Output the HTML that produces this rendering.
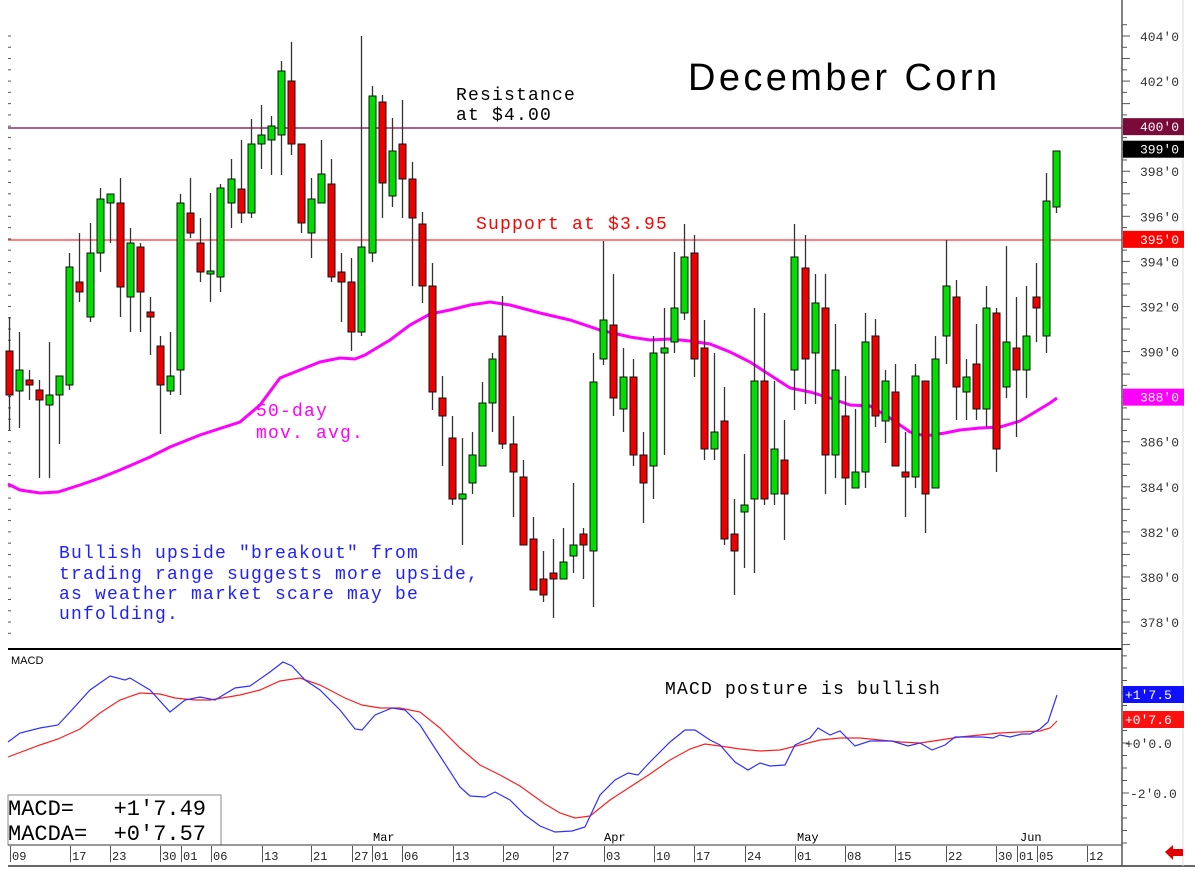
<!DOCTYPE html>
<html><head><meta charset="utf-8"><style>
html,body{margin:0;padding:0;background:#fff;}
svg{display:block;}
text{font-family:"Liberation Mono",monospace;}
</style></head><body>
<svg id="s" width="1195" height="877" xmlns="http://www.w3.org/2000/svg">
<rect width="1195" height="877" fill="#fff"/>
<g id="ticks"></g>
<line x1="8" y1="128" x2="1122" y2="128" stroke="#800040" stroke-width="1.3"/>
<line x1="8" y1="240" x2="1122" y2="240" stroke="#ff0000" stroke-width="1"/>
<polyline fill="none" stroke="#ff00ff" stroke-width="3" points="8,484 20,490 40,493 58,492 80,485 100,478 120,470 150,457 170,447 200,435 240,422 260,405 280,378 300,370 320,362 340,358 355,359 365,355 375,349 390,340 410,325 430,314 450,310 470,305 490,302 510,305 540,313 570,320 600,330 630,337 650,340 670,339 690,341 710,344 730,352 750,362 770,375 790,388 810,392 830,398 850,405 870,406 890,418 910,432 925,436 945,433 960,430 980,428 1000,427 1020,421 1035,412 1050,403 1057,398"/>
<g id="candles"></g>
<text x="688" y="90" style="font-family:'Liberation Sans',sans-serif" font-size="38" letter-spacing="3.4">December Corn</text>
<text x="456" y="100" font-size="18" letter-spacing="1.2">Resistance</text>
<text x="456" y="120" font-size="18" letter-spacing="1.2">at $4.00</text>
<text x="476" y="229" font-size="18" letter-spacing="1.2" fill="#ff0000">Support at $3.95</text>
<text x="256" y="416" font-size="18" letter-spacing="1.2" fill="#ff00ff">50-day</text>
<text x="256" y="438" font-size="18" letter-spacing="1.2" fill="#ff00ff">mov. avg.</text>
<g fill="#2020ff" font-size="18" letter-spacing="1.2">
<text x="59" y="558">Bullish upside "breakout" from</text>
<text x="59" y="579">trading range suggests more upside,</text>
<text x="59" y="599">as weather market scare may be</text>
<text x="59" y="619">unfolding.</text>
</g>
<line x1="8" y1="649" x2="1122" y2="649" stroke="#000" stroke-width="2"/>
<text x="11" y="664" font-size="11" style="font-family:'Liberation Sans',sans-serif">MACD</text>
<text x="665" y="694" font-size="18" letter-spacing="1.2">MACD posture is bullish</text>
<polyline fill="none" stroke="#ff2020" stroke-width="1.2" points="8,757 40,745 58,739 80,729 100,713 120,700 140,693 160,694 175,698 195,700 210,700 240,695 260,690 280,681 300,678 320,685 345,698 362,705 380,708 400,708 420,712 440,728 460,748 480,765 500,775 520,786 545,804 560,813 575,818 590,816 610,800 630,787 650,774 670,760 690,749 705,744 720,746 740,749 760,751 780,750 800,745 820,740 840,738 860,738 880,740 900,742 920,743 940,740 960,737 980,735 1000,733 1020,732 1040,731 1050,728 1057,721"/>
<polyline fill="none" stroke="#3030ff" stroke-width="1.2" points="8,742 20,733 40,728 58,725 70,712 90,690 110,676 125,680 130,678 150,690 170,712 185,700 200,697 215,700 235,688 250,686 270,672 283,662 292,666 305,680 320,690 340,710 355,729 362,730 375,715 392,708 405,710 420,725 440,756 460,787 470,796 485,797 495,792 510,800 525,815 540,826 555,832 572,831 585,827 600,795 615,780 628,773 638,775 650,762 670,742 685,730 695,730 710,740 720,745 735,762 748,770 760,763 770,766 785,765 795,745 810,738 818,728 830,735 840,731 855,746 870,741 880,741 892,741 908,746 920,743 932,750 945,745 955,737 970,737 982,737 993,738 1000,735 1010,737 1022,734 1030,734 1040,729 1048,722 1057,695"/>
<rect x="8" y="795" width="213" height="50" fill="#fff" stroke="#888"/>
<text x="8" y="815" font-size="22" textLength="198" lengthAdjust="spacingAndGlyphs" xml:space="preserve">MACD=   +1'7.49</text>
<text x="8" y="840" font-size="22" textLength="198" lengthAdjust="spacingAndGlyphs" xml:space="preserve">MACDA=  +0'7.57</text>
<line x1="8" y1="845" x2="1122" y2="845" stroke="#333" stroke-width="1"/>
<line x1="8" y1="866" x2="1195" y2="866" stroke="#333" stroke-width="1.5"/>
<line x1="1122" y1="0" x2="1122" y2="866" stroke="#555" stroke-width="1.5"/>
<line x1="1183" y1="0" x2="1183" y2="866" stroke="#ddd" stroke-width="1"/>
<g id="dates" font-size="12" style="font-family:'Liberation Sans',sans-serif"></g>
<g font-size="12" style="font-family:'Liberation Sans',sans-serif">
<text x="373" y="841">Mar</text><text x="604" y="841">Apr</text><text x="797" y="841">May</text><text x="1020" y="841">Jun</text>
</g>
<g id="axis" font-size="13" style="font-family:'Liberation Sans',sans-serif"></g>
<polygon points="1165,852 1173,845 1173,849 1183,849 1183,856 1173,856 1173,860" fill="#e00000"/>
</svg>
<script>
var NS="http://www.w3.org/2000/svg";
function el(p,t,a,txt){var e=document.createElementNS(NS,t);for(var k in a)e.setAttribute(k,a[k]);if(txt!==undefined)e.textContent=txt;p.appendChild(e);return e;}
var C=[
['r',317,351,395,430],['g',332,370,391,428],['r',370,380,385,400],['r',380,390,400,478],['g',342,395,405,478],
['g',376,376,395,444],['g',253,267,385,390],['r',233,282,292,302],['g',223,253,317,322],['g',188,199,253,272],
['g',194,194,203,243],['r',178,203,287,317],['g',228,243,297,332],['r',243,247,292,332],['r',297,312,317,355],
['r',336,346,385,434],['g',332,376,391,395],['g',194,203,370,395],['r',178,213,233,238],['r',218,243,272,282],
['g',193,271,273,302],['g',184,188,277,292],['g',159,179,203,228],['r',140,189,213,223],['g',119,144,213,218],
['g',105,135,144,169],['g',116,126,140,175],['g',61,71,135,175],['r',42,81,144,155],['r',144,144,223,233],
['g',178,199,233,258],['g',140,174,203,203],['r',159,184,277,282],['r',253,272,282,322],['r',258,282,332,351],
['g',36,247,332,336],['g',86,96,253,262],['r',95,102,183,218],['g',118,151,196,207],['r',100,144,179,218],
['r',162,179,218,286],['r',212,224,286,303],['r',263,286,392,410],['r',376,398,416,466],['r',416,438,499,505],
['g',438,494,499,545],['g',432,455,483,494],['g',382,403,466,466],['g',353,359,403,432],['r',296,336,444,449],
['r',416,444,472,517],['r',460,477,545,545],['r',517,539,590,590],['r',551,579,595,602],['r',539,573,579,618],
['g',528,562,579,579],['g',483,545,556,573],['r',528,534,545,579],['g',353,382,551,607],['g',241,320,359,365],
['r',274,325,398,416],['g',348,377,409,432],['r',359,377,455,466],['r',432,455,483,523],['g',336,353,466,499],
['g',308,348,353,455],['g',252,308,342,353],['g',224,257,313,320],['r',235,253,359,377],['r',320,348,449,460],
['g',353,432,449,460],['r',387,421,539,545],['r',499,534,551,595],['g',454,505,512,568],['g',308,381,499,573],
['r',313,381,499,505],['g',381,449,494,505],['r',420,460,494,540],['g',224,257,370,410],['r',235,268,359,404],
['g',274,303,353,404],['r',274,308,455,494],['g',324,370,455,478],['r',376,416,478,505],['g',409,472,488,488],
['g',313,342,472,488],['r',319,336,416,427],['g',370,381,421,443],['r',364,392,466,466],['r',432,472,477,517],
['g',364,376,477,488],['r',381,381,494,533],['g',336,359,488,488],['g',240,286,336,364],['r',280,297,387,420],
['g',359,377,392,420],['r',324,364,409,420],['g',286,308,409,427],['r',308,313,449,472],['g',246,342,387,398],
['r',297,348,370,437],['g',286,336,370,398],['r',263,297,308,342],['g',173,201,336,353],['g',151,151,207,213]
];
var g=document.getElementById('candles');
C.forEach(function(c,i){
 var x=Math.round(9+i*10.07)+0.5;
 el(g,'line',{x1:x,y1:c[1],x2:x,y2:c[4],stroke:'#333','stroke-width':1.3});
 var h=Math.max(c[3]-c[2],3);
 el(g,'rect',{x:x-3.5,y:c[2],width:7,height:h,fill:c[0]=='g'?'#00dd00':'#ee0000',stroke:'#111','stroke-width':1});
});
var tk=document.getElementById('ticks');
for(var y=36;y<640;y+=11.27){el(tk,'line',{x1:8,y1:y,x2:11,y2:y,stroke:'#555','stroke-width':1});}
var ax=document.getElementById('axis');
function py(p){return 36+(404-p)*22.54;}
for(var p=404.5;p>=376.5;p-=0.5){var y=py(p);var big=(p%1==0);el(ax,'line',{x1:1122,y1:y,x2:big?1130:1127,y2:y,stroke:'#555'});}
[404,402,398,396,394,392,390,386,384,382,380,378].forEach(function(p){el(ax,'text',{x:1140,y:py(p)+5,fill:'#333'},p+"'0");});
function box(p,bg,fg){var y=py(p);el(ax,'rect',{x:1123,y:y-8,width:61,height:17,fill:bg});el(ax,'text',{x:1140,y:y+5,fill:fg},p+"'0");}
box(400,'#7a0a3a','#fff');box(399,'#000','#fff');box(395,'#ff0000','#fff');box(388,'#ff00ff','#fff');
for(var y=668;y<845;y+=12.5){el(ax,'line',{x1:1122,y1:y,x2:1127,y2:y,stroke:'#555'});}
el(ax,'line',{x1:1122,y1:743,x2:1129,y2:743,stroke:'#555'});el(ax,'line',{x1:1122,y1:793,x2:1129,y2:793,stroke:'#555'});
el(ax,'text',{x:1125,y:748,fill:'#333'},"+0'0.0");el(ax,'text',{x:1130,y:798,fill:'#333'},"-2'0.0");
el(ax,'rect',{x:1123,y:686,width:61,height:17,fill:'#1010ff'});el(ax,'text',{x:1125,y:699,fill:'#fff'},"+1'7.5");
el(ax,'rect',{x:1123,y:711,width:61,height:17,fill:'#ff1010'});el(ax,'text',{x:1125,y:724,fill:'#fff'},"+0'7.6");
var D=[[10,'09'],[70,'17'],[110,'23'],[160,'30'],[181,'01'],[211,'06'],[262,'13'],[311,'21'],[352,'27'],[372,'01'],[402,'06'],[453,'13'],[503,'20'],[553,'27'],[604,'03'],[654,'10'],[694,'17'],[745,'24'],[795,'01'],[845,'08'],[895,'15'],[946,'22'],[996,'30'],[1017,'01'],[1037,'05'],[1087,'12']];
var dg=document.getElementById('dates');
D.forEach(function(d){el(dg,'line',{x1:d[0]+0.5,y1:846,x2:d[0]+0.5,y2:862,stroke:'#555'});el(dg,'text',{x:d[0]+2,y:860,fill:'#222'},d[1]);});
</script>
</body></html>
